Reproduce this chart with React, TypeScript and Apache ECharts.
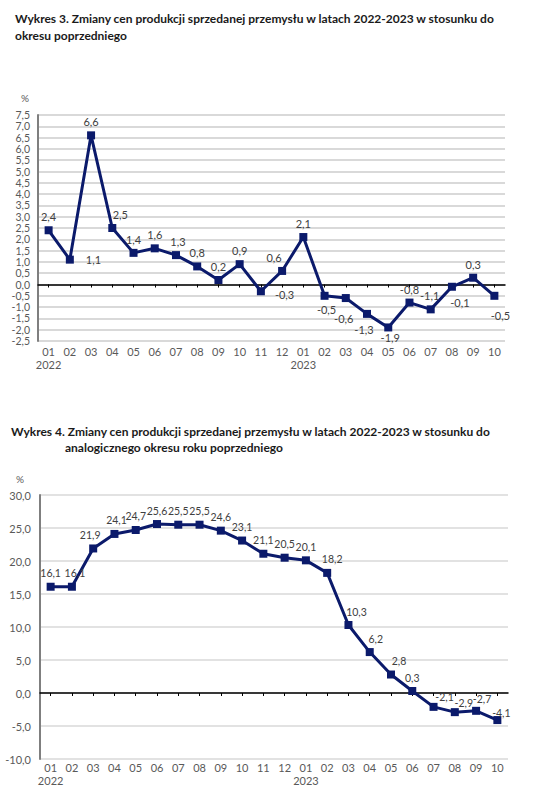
import React, { useEffect, useRef } from "react";
import * as echarts from "echarts";

const months = ["01","02","03","04","05","06","07","08","09","10","11","12","01","02","03","04","05","06","07","08","09","10"];
const years = ["2022","","","","","","","","","","","","2023","","","","","","","","",""];
const mmValues = [2.4, 1.1, 6.6, 2.5, 1.4, 1.6, 1.3, 0.8, 0.2, 0.9, -0.3, 0.6, 2.1, -0.5, -0.6, -1.3, -1.9, -0.8, -1.1, -0.1, 0.3, -0.5];
const yyValues = [16.1, 16.1, 21.9, 24.1, 24.7, 25.6, 25.5, 25.5, 24.6, 23.1, 21.1, 20.5, 20.1, 18.2, 10.3, 6.2, 2.8, 0.3, -2.1, -2.9, -2.7, -4.1];
const title3a = "Wykres 3. Zmiany cen produkcji sprzedanej przemysłu w latach 2022-2023 w stosunku do";
const title3b = "okresu poprzedniego";
const title4a = "Wykres 4. Zmiany cen produkcji sprzedanej przemysłu w latach 2022-2023 w stosunku do";
const title4b = "analogicznego okresu roku poprzedniego";

// label placement styles (not data)
const labelStyle1: Array<[string, number, number]> = [
  ["top", 0, 0], ["right", 8, 0], ["top", 0, 0], ["top", 8, 0], ["top", 0, 0], ["top", 0, 0],
  ["top", 2, 0], ["top", 0, 0], ["top", 0, 0], ["top", 0, 0], ["right", 6, 3], ["top", -8, 0],
  ["top", 0, 0], ["bottom", 2, 0], ["bottom", -2, 7], ["bottom", -3, 2], ["bottom", 2, -3], ["top", 0, 0],
  ["top", -1, 0], ["bottom", 8, 2], ["top", 0, 0], ["bottom", 6, 6],
];
const labelStyle2: Array<[number, number]> = [
  [0, 0], [3, 0], [-3, 0], [2, 0], [0, 0], [0, 0], [0, 0], [0, 0], [0, 0], [0, 0], [0, 0], [0, 0],
  [0, 0], [5, 0], [8, 0], [6, 0], [8, 0], [0, 0], [11, 4], [9, 4], [6, 2], [4, 6],
];

const fmt = (v: number) => v.toFixed(1).replace(".", ",");
const FONT = "Lato";
const NAVY = "#0b1a6b";

export default function App() {
  const ref = useRef<HTMLDivElement>(null);
  useEffect(() => {
    if (!ref.current) return;
    const chart = echarts.init(ref.current, undefined, { renderer: "svg" });
    const xLabels = {
      color: "#595959",
      fontSize: 11,
      fontFamily: FONT,
      lineHeight: 13,
      interval: 0,
      formatter: (v: string, i: number) => (years[i] ? `${v}\n${years[i]}` : v),
    };
    const titleStyle = { fontFamily: FONT, fontSize: 12, fontWeight: "bold" as const, color: "#1a1a1a" };
    const option: any = {
      animation: false,
      textStyle: { fontFamily: FONT },
      title: [
        { text: title3a, left: 10, top: 7, textStyle: titleStyle },
        { text: title3b, left: 10, top: 24, textStyle: titleStyle },
        { text: title4a, left: 6, top: 420, textStyle: titleStyle },
        { text: title4b, left: 60, top: 436, textStyle: titleStyle },
      ],
      graphic: [
        { type: "text", left: 21, top: 93, style: { text: "%", fontSize: 10, fill: "#595959", fontFamily: FONT } },
        { type: "text", left: 16, top: 474, style: { text: "%", fontSize: 10, fill: "#595959", fontFamily: FONT } },
      ],
      grid: [
        { left: 38, top: 115, width: 467, height: 226 },
        { left: 40, top: 495, width: 468, height: 264 },
      ],
      xAxis: [
        {
          gridIndex: 0, type: "category", data: months, position: "bottom",
          axisLine: { show: false, onZero: false }, axisTick: { show: false },
          axisLabel: { ...xLabels, margin: 4 },
        },
        {
          gridIndex: 0, type: "category", data: months,
          axisLine: { show: true, onZero: true, lineStyle: { color: "#000", width: 1.5 } },
          axisTick: { show: true, inside: true, length: 3, alignWithLabel: true, lineStyle: { color: "#000" } },
          axisLabel: { show: false },
        },
        {
          gridIndex: 1, type: "category", data: months, position: "bottom",
          axisLine: { show: false, onZero: false }, axisTick: { show: false },
          axisLabel: { ...xLabels, margin: 2 },
        },
        {
          gridIndex: 1, type: "category", data: months,
          axisLine: { show: true, onZero: true, lineStyle: { color: "#000", width: 1.5 } },
          axisTick: { show: true, inside: true, length: 3, alignWithLabel: true, lineStyle: { color: "#000" } },
          axisLabel: { show: false },
        },
      ],
      yAxis: [
        {
          gridIndex: 0, type: "value", min: -2.5, max: 7.5, interval: 0.5,
          axisLine: { show: true, lineStyle: { color: "#7f7f7f", width: 2 } },
          axisTick: { show: false },
          splitLine: { lineStyle: { color: "#d9d9d9", width: 2 } },
          axisLabel: { color: "#595959", fontSize: 10.5, lineHeight: 11, margin: 8, formatter: fmt, fontFamily: FONT },
        },
        {
          gridIndex: 1, type: "value", min: -10, max: 30, interval: 5,
          axisLine: { show: true, lineStyle: { color: "#7f7f7f", width: 2 } },
          axisTick: { show: false },
          splitLine: { lineStyle: { color: "#d9d9d9", width: 1.5 } },
          axisLabel: { color: "#595959", fontSize: 11, margin: 9, formatter: fmt, fontFamily: FONT },
        },
      ],
      series: [
        {
          type: "line", xAxisIndex: 0, yAxisIndex: 0,
          data: mmValues.map((v, i) => ({
            value: v,
            label: { position: labelStyle1[i][0], offset: [labelStyle1[i][1], labelStyle1[i][2]] },
          })),
          symbol: "rect", symbolSize: 8,
          itemStyle: { color: NAVY },
          lineStyle: { color: NAVY, width: 3 },
          label: { show: true, color: "#404040", fontSize: 11, fontFamily: FONT, distance: 4, formatter: (p: any) => fmt(p.value) },
          z: 5,
        },
        {
          type: "line", xAxisIndex: 2, yAxisIndex: 1,
          data: yyValues.map((v, i) => ({
            value: v,
            label: { position: "top", offset: [labelStyle2[i][0], labelStyle2[i][1]] },
          })),
          symbol: "rect", symbolSize: 8,
          itemStyle: { color: NAVY },
          lineStyle: { color: NAVY, width: 3 },
          label: { show: true, color: "#404040", fontSize: 10.5, fontFamily: FONT, distance: 4, formatter: (p: any) => fmt(p.value) },
          z: 5,
        },
      ],
    };
    chart.setOption(option);
    return () => chart.dispose();
  }, []);
  return <div ref={ref} style={{ position: "fixed", left: 0, top: 0, width: 554, height: 799, background: "#fff" }} />;
}
